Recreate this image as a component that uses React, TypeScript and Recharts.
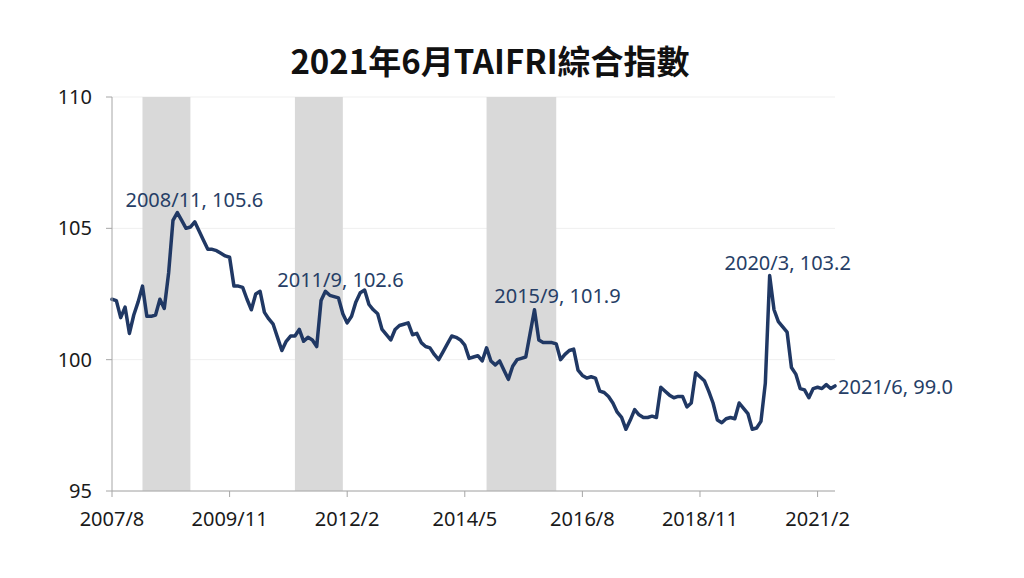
import React from 'react';
import {
  LineChart,
  Line,
  XAxis,
  YAxis,
  CartesianGrid,
  ReferenceArea
} from 'recharts';

// monthly TAIFRI composite index, 2007/8 .. 2021/6
const startYear = 2007;
const startMonth = 8;

const indexValues = [
  102.3, 102.25, 101.6, 102.0, 101.0, 101.7, 102.2, 102.8, 101.65, 101.65,
  101.7, 102.3, 101.95, 103.3, 105.3, 105.6, 105.3, 105.0, 105.05, 105.25,
  104.9, 104.55, 104.2, 104.2, 104.15, 104.05, 103.95, 103.9, 102.8, 102.8,
  102.75, 102.3, 101.9, 102.5, 102.6, 101.8, 101.55, 101.35, 100.85, 100.35,
  100.7, 100.9, 100.9, 101.15, 100.7, 100.85, 100.75, 100.5, 102.25, 102.6,
  102.45, 102.4, 102.35, 101.75, 101.4, 101.65, 102.2, 102.55, 102.65, 102.1,
  101.9, 101.75, 101.15, 100.95, 100.75, 101.15, 101.3, 101.35, 101.4, 100.95,
  101.0, 100.65, 100.5, 100.45, 100.2, 100.0, 100.3, 100.6, 100.9, 100.85,
  100.75, 100.55, 100.05, 100.1, 100.15, 99.95, 100.45, 99.95, 99.8, 99.95,
  99.6, 99.25, 99.75, 100.0, 100.05, 100.1, 101.0, 101.9, 100.75, 100.65,
  100.65, 100.65, 100.6, 100.0, 100.2, 100.35, 100.4, 99.6, 99.4, 99.3,
  99.35, 99.3, 98.8, 98.75, 98.6, 98.35, 98.0, 97.8, 97.35, 97.7,
  98.1, 97.9, 97.8, 97.8, 97.85, 97.8, 98.95, 98.8, 98.65, 98.55,
  98.6, 98.6, 98.2, 98.35, 99.5, 99.35, 99.2, 98.8, 98.35, 97.7,
  97.6, 97.75, 97.8, 97.75, 98.35, 98.15, 97.95, 97.35, 97.4, 97.65,
  99.1, 103.2, 101.9, 101.45, 101.25, 101.05, 99.7, 99.45, 98.9, 98.85,
  98.55, 98.9, 98.95, 98.9, 99.05, 98.9, 99.0
];

const months = indexValues.map((_, i) => {
  const m = startMonth - 1 + i;
  return `${startYear + Math.floor(m / 12)}/${(m % 12) + 1}`;
});

const xTicks = ['2007/8', '2009/11', '2012/2', '2014/5', '2016/8', '2018/11', '2021/2'];
const yTicks = [95, 100, 105, 110];

// shaded periods (start, end)
const shadedStart = ['2008/3', '2011/2', '2014/10'];
const shadedEnd = ['2009/2', '2012/1', '2016/2'];

// annotated points
const notedMonths = ['2008/11', '2011/9', '2015/9', '2020/3', '2021/6'];
const noteOffsets: Record<string, [number, number, string]> = {
  '2008/11': [17, -6, 'middle'],
  '2011/9': [15, -4, 'middle'],
  '2015/9': [23, -7, 'middle'],
  '2020/3': [18, -6, 'middle'],
  '2021/6': [3, 8, 'start']
};

const data = months.map((month, i) => ({ month, value: indexValues[i] }));

const navy = '#203864';
const labelColor = '#263e66';
const font = '"Noto Sans", "Noto Sans CJK TC", sans-serif';

const renderDot = (props: any) => {
  const { cx, cy, payload, index } = props;
  if (!notedMonths.includes(payload.month)) return <g key={`d${index}`} />;
  const [dx, dy, anchor] = noteOffsets[payload.month];
  return (
    <text
      key={`d${index}`}
      x={cx + dx}
      y={cy + dy}
      textAnchor={anchor as any}
      fill={labelColor}
      fontSize={20}
      fontFamily={font}
    >
      {`${payload.month}, ${payload.value.toFixed(1)}`}
    </text>
  );
};

export default function App() {
  return (
    <div style={{ position: 'absolute', left: 0, top: 0, width: 1024, height: 578, background: '#fff' }}>
      <div
        style={{
          position: 'absolute',
          left: 0,
          width: 980,
          top: 38,
          textAlign: 'center',
          fontFamily: '"Noto Sans CJK TC", sans-serif',
          fontWeight: 700,
          fontSize: 33,
          color: '#111',
          lineHeight: '44px'
        }}
      >
        2021年6月TAIFRI綜合指數
      </div>
      <LineChart
        width={1024}
        height={578}
        data={data}
        margin={{ top: 97, right: 189, bottom: 47, left: 52 }}
      >
        <CartesianGrid horizontal vertical={false} stroke="#efefef" />
        {shadedStart.map((s, i) => (
          <ReferenceArea
            key={s}
            x1={s}
            x2={shadedEnd[i]}
            y1={95}
            y2={110}
            fill="#d9d9d9"
            fillOpacity={1}
            stroke="none"
          />
        ))}
        <XAxis
          dataKey="month"
          scale="point"
          padding={{ left: 0, right: 0 }}
          ticks={xTicks}
          interval={0}
          height={40}
          tickSize={6}
          tickMargin={15}
          stroke="#a6a6a6"
          tick={{ fill: '#1a1a1a', fontSize: 20, fontFamily: font }}
        />
        <YAxis
          domain={[95, 110]}
          ticks={yTicks}
          width={60}
          tickSize={6}
          tickMargin={14}
          stroke="#a6a6a6"
          tick={{ fill: '#1a1a1a', fontSize: 20, fontFamily: font }}
        />
        <Line
          type="linear"
          dataKey="value"
          stroke={navy}
          strokeWidth={3.5}
          strokeLinejoin="round"
          strokeLinecap="round"
          dot={renderDot}
          activeDot={false}
          isAnimationActive={false}
        />
      </LineChart>
    </div>
  );
}
